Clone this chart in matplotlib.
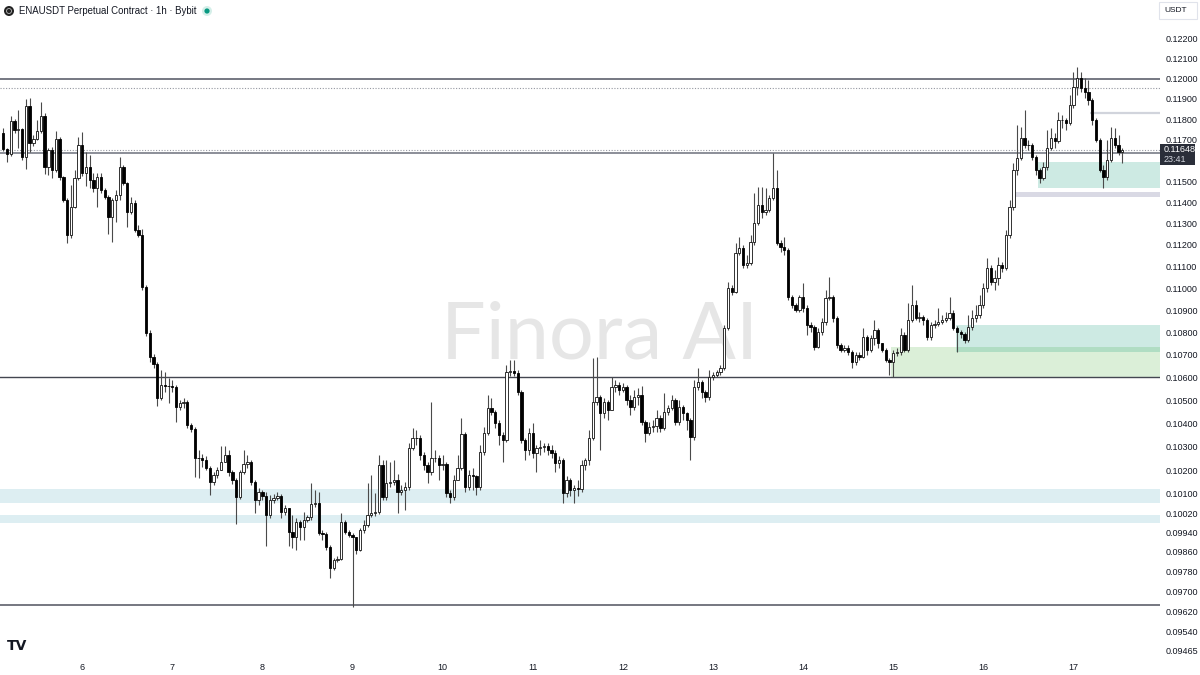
import matplotlib
matplotlib.use("Agg")
import matplotlib.pyplot as plt
from matplotlib.patches import Rectangle, Circle
from matplotlib.ticker import FixedLocator, NullLocator, FuncFormatter

# hourly candles, ENAUSDT 1h, day 5 03:00 -> day 17 12:00
first_open = 0.11733
close = [
    0.11655, 0.11631, 0.11792, 0.11748, 0.11753, 0.11617, 0.11866, 0.11684, 0.11704, 0.11743,
    0.11817, 0.11568, 0.11650, 0.11554, 0.11704, 0.11520, 0.11411, 0.11247, 0.11378, 0.11516,
    0.11675, 0.11540, 0.11568, 0.11506, 0.11468, 0.11520, 0.11459, 0.11425, 0.11331, 0.11411,
    0.11435, 0.11568, 0.11492, 0.11355, 0.11397, 0.11270, 0.11247, 0.11006, 0.10799, 0.10692,
    0.10660, 0.10511, 0.10568, 0.10565, 0.10564, 0.10559, 0.10472, 0.10489, 0.10493, 0.10394,
    0.10376, 0.10252, 0.10250, 0.10243, 0.10209, 0.10151, 0.10180, 0.10201, 0.10235, 0.10265,
    0.10193, 0.10159, 0.10088, 0.10193, 0.10226, 0.10235, 0.10151, 0.10075, 0.10109, 0.10092,
    0.10013, 0.10075, 0.10083, 0.10092, 0.10025, 0.10042, 0.09942, 0.09921, 0.09984, 0.09963,
    0.09992, 0.10004, 0.10058, 0.10063, 0.09938, 0.09934, 0.09880, 0.09795, 0.09827, 0.09831,
    0.09984, 0.09942, 0.09930, 0.09921, 0.09868, 0.09950, 0.09971, 0.10013, 0.10021, 0.10025,
    0.10222, 0.10088, 0.10146, 0.10151, 0.10159, 0.10109, 0.10117, 0.10130, 0.10295, 0.10338,
    0.10336, 0.10265, 0.10222, 0.10193, 0.10252, 0.10250, 0.10222, 0.10226, 0.10104, 0.10088,
    0.10159, 0.10209, 0.10355, 0.10130, 0.10180, 0.10176, 0.10130, 0.10278, 0.10359, 0.10467,
    0.10450, 0.10402, 0.10351, 0.10329, 0.10625, 0.10627, 0.10621, 0.10537, 0.10329, 0.10286,
    0.10359, 0.10273, 0.10295, 0.10299, 0.10303, 0.10286, 0.10273, 0.10230, 0.10243, 0.10104,
    0.10159, 0.10117, 0.10125, 0.10119, 0.10222, 0.10243, 0.10338, 0.10493, 0.10515, 0.10446,
    0.10493, 0.10459, 0.10559, 0.10568, 0.10546, 0.10559, 0.10502, 0.10472, 0.10515, 0.10524,
    0.10406, 0.10359, 0.10385, 0.10389, 0.10424, 0.10381, 0.10450, 0.10467, 0.10502, 0.10406,
    0.10472, 0.10446, 0.10415, 0.10342, 0.10559, 0.10581, 0.10537, 0.10515, 0.10603, 0.10612,
    0.10625, 0.10643, 0.10821, 0.11002, 0.10983, 0.11163, 0.11186, 0.11107, 0.11116, 0.11214,
    0.11303, 0.11387, 0.11355, 0.11364, 0.11420, 0.11468, 0.11209, 0.11190, 0.11177, 0.10961,
    0.10925, 0.10902, 0.10961, 0.10911, 0.10835, 0.10826, 0.10736, 0.10803, 0.10848, 0.10956,
    0.10961, 0.10866, 0.10745, 0.10723, 0.10731, 0.10714, 0.10669, 0.10700, 0.10691, 0.10781,
    0.10723, 0.10776, 0.10812, 0.10754, 0.10723, 0.10678, 0.10669, 0.10709, 0.10714, 0.10790,
    0.10723, 0.10857, 0.10925, 0.10866, 0.10871, 0.10857, 0.10781, 0.10835, 0.10839, 0.10848,
    0.10857, 0.10866, 0.10889, 0.10821, 0.10803, 0.10794, 0.10767, 0.10826, 0.10866, 0.10880,
    0.10925, 0.11002, 0.11093, 0.11029, 0.11047, 0.11107, 0.11093, 0.11247, 0.11378, 0.11554,
    0.11612, 0.11709, 0.11675, 0.11673, 0.11617, 0.11554, 0.11516, 0.11568, 0.11660, 0.11709,
    0.11694, 0.11797, 0.11795, 0.11782, 0.11870, 0.11959, 0.12004, 0.11954, 0.11935, 0.11895,
    0.11797, 0.11699, 0.11554, 0.11520, 0.11602, 0.11709, 0.11675, 0.11641, 0.11648,
]
high = [
    0.11758, 0.11660, 0.11817, 0.11802, 0.11846, 0.11758, 0.11900, 0.11905, 0.11724, 0.11797,
    0.11885, 0.11831, 0.11660, 0.11665, 0.11743, 0.11714, 0.11525, 0.11420, 0.11482, 0.11554,
    0.11714, 0.11738, 0.11641, 0.11626, 0.11540, 0.11540, 0.11540, 0.11468, 0.11435, 0.11420,
    0.11459, 0.11617, 0.11578, 0.11497, 0.11425, 0.11411, 0.11294, 0.11275, 0.11015, 0.10812,
    0.10705, 0.10669, 0.10634, 0.10625, 0.10599, 0.10590, 0.10568, 0.10502, 0.10511, 0.10502,
    0.10402, 0.10385, 0.10286, 0.10269, 0.10260, 0.10218, 0.10193, 0.10214, 0.10303, 0.10303,
    0.10286, 0.10201, 0.10167, 0.10201, 0.10286, 0.10265, 0.10243, 0.10159, 0.10125, 0.10117,
    0.10109, 0.10096, 0.10100, 0.10109, 0.10100, 0.10054, 0.10042, 0.10013, 0.10000, 0.09992,
    0.10025, 0.10013, 0.10146, 0.10117, 0.10109, 0.09950, 0.09942, 0.09888, 0.09835, 0.09843,
    0.10021, 0.09992, 0.09950, 0.09938, 0.09921, 0.09959, 0.09992, 0.10146, 0.10180, 0.10104,
    0.10265, 0.10243, 0.10243, 0.10235, 0.10243, 0.10184, 0.10138, 0.10151, 0.10316, 0.10381,
    0.10372, 0.10351, 0.10278, 0.10235, 0.10493, 0.10286, 0.10265, 0.10265, 0.10235, 0.10117,
    0.10180, 0.10265, 0.10424, 0.10363, 0.10201, 0.10209, 0.10180, 0.10308, 0.10385, 0.10524,
    0.10511, 0.10459, 0.10415, 0.10363, 0.10656, 0.10678, 0.10678, 0.10634, 0.10546, 0.10338,
    0.10381, 0.10402, 0.10308, 0.10329, 0.10316, 0.10316, 0.10308, 0.10286, 0.10260, 0.10252,
    0.10176, 0.10167, 0.10138, 0.10159, 0.10243, 0.10252, 0.10372, 0.10687, 0.10692, 0.10524,
    0.10511, 0.10502, 0.10603, 0.10590, 0.10581, 0.10577, 0.10568, 0.10524, 0.10546, 0.10555,
    0.10564, 0.10415, 0.10406, 0.10415, 0.10459, 0.10437, 0.10533, 0.10480, 0.10524, 0.10511,
    0.10502, 0.10480, 0.10450, 0.10424, 0.10590, 0.10643, 0.10590, 0.10546, 0.10634, 0.10625,
    0.10634, 0.10656, 0.10835, 0.11029, 0.11015, 0.11209, 0.11237, 0.11200, 0.11153, 0.11247,
    0.11444, 0.11473, 0.11473, 0.11468, 0.11435, 0.11636, 0.11554, 0.11223, 0.11237, 0.11186,
    0.10970, 0.10934, 0.10970, 0.11024, 0.10925, 0.10848, 0.10835, 0.10821, 0.10866, 0.10993,
    0.11052, 0.10970, 0.10875, 0.10754, 0.10745, 0.10745, 0.10723, 0.10714, 0.10714, 0.10821,
    0.10790, 0.10790, 0.10857, 0.10821, 0.10754, 0.10731, 0.10687, 0.10723, 0.10731, 0.10821,
    0.10803, 0.10934, 0.11015, 0.10947, 0.10893, 0.10880, 0.10866, 0.10848, 0.10857, 0.10911,
    0.10880, 0.10893, 0.10961, 0.10902, 0.10830, 0.10812, 0.10803, 0.10880, 0.10902, 0.10925,
    0.10970, 0.11024, 0.11139, 0.11107, 0.11084, 0.11144, 0.11121, 0.11270, 0.11411, 0.11588,
    0.11772, 0.11763, 0.11846, 0.11699, 0.11684, 0.11626, 0.11564, 0.11592, 0.11748, 0.11758,
    0.11733, 0.11836, 0.11821, 0.11807, 0.11920, 0.12034, 0.12059, 0.12034, 0.12004, 0.11994,
    0.11905, 0.11807, 0.11709, 0.11578, 0.11699, 0.11763, 0.11758, 0.11724, 0.11660,
]
low = [
    0.11646, 0.11592, 0.11621, 0.11733, 0.11660, 0.11602, 0.11559, 0.11641, 0.11670, 0.11699,
    0.11733, 0.11535, 0.11530, 0.11516, 0.11544, 0.11506, 0.11402, 0.11209, 0.11232, 0.11373,
    0.11506, 0.11525, 0.11478, 0.11468, 0.11449, 0.11378, 0.11444, 0.11416, 0.11251, 0.11214,
    0.11308, 0.11411, 0.11482, 0.11284, 0.11345, 0.11261, 0.11237, 0.10993, 0.10785, 0.10669,
    0.10643, 0.10476, 0.10502, 0.10537, 0.10489, 0.10537, 0.10406, 0.10459, 0.10467, 0.10381,
    0.10363, 0.10172, 0.10167, 0.10214, 0.10201, 0.10096, 0.10138, 0.10167, 0.10201, 0.10235,
    0.10176, 0.10142, 0.09975, 0.10079, 0.10184, 0.10209, 0.10138, 0.10021, 0.10054, 0.10075,
    0.09884, 0.10000, 0.10063, 0.10075, 0.10000, 0.10013, 0.09884, 0.09876, 0.09868, 0.09909,
    0.09909, 0.09984, 0.09992, 0.10046, 0.09930, 0.09909, 0.09868, 0.09754, 0.09787, 0.09819,
    0.09827, 0.09934, 0.09921, 0.09637, 0.09852, 0.09864, 0.09938, 0.09963, 0.10004, 0.10008,
    0.10017, 0.10075, 0.10075, 0.10130, 0.10138, 0.10021, 0.10096, 0.10033, 0.10117, 0.10286,
    0.10308, 0.10243, 0.10201, 0.10146, 0.10180, 0.10235, 0.10159, 0.10201, 0.10088, 0.10063,
    0.10075, 0.10180, 0.10201, 0.10109, 0.10117, 0.10117, 0.10096, 0.10117, 0.10265, 0.10351,
    0.10437, 0.10381, 0.10308, 0.10235, 0.10321, 0.10608, 0.10608, 0.10524, 0.10316, 0.10243,
    0.10265, 0.10252, 0.10193, 0.10265, 0.10278, 0.10265, 0.10252, 0.10193, 0.10209, 0.10063,
    0.10088, 0.10092, 0.10063, 0.10092, 0.10109, 0.10201, 0.10222, 0.10329, 0.10480, 0.10286,
    0.10424, 0.10415, 0.10467, 0.10537, 0.10524, 0.10537, 0.10480, 0.10437, 0.10459, 0.10480,
    0.10394, 0.10321, 0.10351, 0.10363, 0.10363, 0.10363, 0.10372, 0.10437, 0.10459, 0.10394,
    0.10394, 0.10415, 0.10372, 0.10243, 0.10329, 0.10546, 0.10511, 0.10493, 0.10502, 0.10590,
    0.10603, 0.10612, 0.10634, 0.10812, 0.10970, 0.10979, 0.11153, 0.11093, 0.11093, 0.11107,
    0.11200, 0.11294, 0.11326, 0.11340, 0.11355, 0.11411, 0.11200, 0.11167, 0.11153, 0.10947,
    0.10911, 0.10893, 0.10893, 0.10893, 0.10790, 0.10803, 0.10723, 0.10731, 0.10790, 0.10835,
    0.10947, 0.10848, 0.10731, 0.10714, 0.10714, 0.10700, 0.10643, 0.10656, 0.10678, 0.10687,
    0.10700, 0.10714, 0.10745, 0.10731, 0.10714, 0.10669, 0.10612, 0.10603, 0.10696, 0.10700,
    0.10714, 0.10714, 0.10848, 0.10857, 0.10848, 0.10835, 0.10767, 0.10767, 0.10821, 0.10830,
    0.10839, 0.10848, 0.10857, 0.10812, 0.10714, 0.10776, 0.10754, 0.10758, 0.10812, 0.10848,
    0.10866, 0.10911, 0.10984, 0.11015, 0.10993, 0.11015, 0.11075, 0.11084, 0.11232, 0.11364,
    0.11530, 0.11602, 0.11660, 0.11650, 0.11602, 0.11530, 0.11492, 0.11506, 0.11554, 0.11650,
    0.11660, 0.11684, 0.11758, 0.11748, 0.11772, 0.11856, 0.11920, 0.11935, 0.11905, 0.11870,
    0.11772, 0.11689, 0.11544, 0.11468, 0.11506, 0.11592, 0.11660, 0.11626, 0.11588,
]

day_labels = ["6", "7", "8", "9", "10", "11", "12", "13", "14", "15", "16", "17"]
first_day_index = 21  # candle index of day 6 00:00

price_ticks = [0.12200, 0.12100, 0.12000, 0.11900, 0.11800, 0.11700, 0.11500, 0.11400,
               0.11300, 0.11200, 0.11100, 0.11000, 0.10900, 0.10800, 0.10700, 0.10600,
               0.10500, 0.10400, 0.10300, 0.10200, 0.10100, 0.10020, 0.09940, 0.09860,
               0.09780, 0.09700, 0.09620, 0.09540, 0.09465]

last_price = 0.11648
countdown = "23:41"

# drawn levels
level_top = 0.12000
level_dotted = 0.11953
level_mid = 0.11638
level_short = 0.11831
level_106 = 0.10603
level_bottom = 0.09645
# zones: (start candle, low price, high price)
zone_teal_high = (275.6, 0.11468, 0.11592)
zone_gray = (268.9, 0.11425, 0.11449)
zone_teal_low = (253.7, 0.10714, 0.10835)
zone_green = (236.4, 0.10603, 0.10736)
band_blue_1 = (0.10063, 0.10121)
band_blue_2 = (0.09980, 0.10013)

n = len(close)
opens = [first_open] + close[:-1]
xs = list(range(n))

W, H = 1200, 675
fig = plt.figure(figsize=(12, 6.75), dpi=100)
ax = fig.add_axes([0, 15 / H, 1160 / W, 660 / H])
ax.set_yscale("log")
x_left, x_right = -0.88, 308.05
ax.set_xlim(x_left, x_right)
ax.set_ylim(0.09427, 0.12399)

# zones and levels
ax.axhspan(band_blue_1[0], band_blue_1[1], color="#ddeef2", lw=0, zorder=1)
ax.axhspan(band_blue_2[0], band_blue_2[1], color="#ddeef2", lw=0, zorder=1)
for (start, lo, hi), col in [(zone_green, (0.31, 0.69, 0.25, 0.2)),
                             (zone_teal_low, (0.02, 0.59, 0.45, 0.2)),
                             (zone_teal_high, (0.02, 0.59, 0.45, 0.2)),
                             (zone_gray, (0.55, 0.55, 0.68, 0.33))]:
    ax.add_patch(Rectangle((start, lo), x_right - start, hi - lo, facecolor=col,
                           lw=0, zorder=1))

ax.axhline(level_top, color="#6a6d78", lw=1.3, zorder=2)
ax.axhline(level_dotted, color="#9598a1", lw=0.8, ls=(0, (1, 1.5)), zorder=2)
ax.axhline(level_mid, color="#787b86", lw=1.2, zorder=2)
ax.axhline(last_price, color="#9598a1", lw=0.8, ls=(0, (1, 1.5)), zorder=2)
ax.axhline(level_106, color="#434651", lw=1.0, zorder=2)
ax.axhline(level_bottom, color="#5d606b", lw=1.2, zorder=2)
ax.hlines(level_short, 289.4, x_right, color="#d1d4dc", lw=1.6, zorder=2)

# watermark
ax.text(0.517, 0.49, "Finora AI", transform=ax.transAxes, ha="center", va="center",
        fontsize=57, color="#e6e6e6", family="Lato", zorder=0)

# candles
ax.vlines(xs, low, high, color="#4a4a4a", lw=0.8, zorder=3)
up_x = [i for i in xs if close[i] >= opens[i]]
dn_x = [i for i in xs if close[i] < opens[i]]
ax.bar(up_x, [close[i] - opens[i] for i in up_x], bottom=[opens[i] for i in up_x],
       width=0.62, color="white", edgecolor="#111111", lw=0.6, zorder=4)
ax.bar(dn_x, [close[i] - opens[i] for i in dn_x], bottom=[opens[i] for i in dn_x],
       width=0.62, color="#000000", edgecolor="#000000", lw=0.6, zorder=4)

# axes styling
for s in ax.spines.values():
    s.set_visible(False)
ax.set_xticks([first_day_index + 24 * k for k in range(len(day_labels))])
ax.set_xticklabels(day_labels)
ax.tick_params(axis="x", length=0, pad=2, labelsize=6.5, labelcolor="#131722")
ax.yaxis.tick_right()
ax.yaxis.set_major_locator(FixedLocator(price_ticks))
ax.yaxis.set_minor_locator(NullLocator())
ax.yaxis.set_major_formatter(FuncFormatter(lambda v, p: f"{v:.5f}"))
ax.tick_params(axis="y", length=0, pad=4, labelsize=6.5, labelcolor="#131722")
for lab in ax.get_xticklabels() + ax.get_yticklabels():
    lab.set_family("Liberation Sans")

# overlay in pixel units for the screen furniture
ov = fig.add_axes([0, 0, 1, 1], zorder=10)
ov.set_xlim(0, W)
ov.set_ylim(H, 0)
ov.axis("off")
ov.patch.set_alpha(0)

ov.add_patch(Circle((9, 11), 5, facecolor="#222222", edgecolor="none"))
ov.add_patch(Circle((9, 11), 2.5, facecolor="none", edgecolor="#bbbbbb", lw=0.6))
ov.text(19, 11, "ENAUSDT Perpetual Contract · 1h · Bybit", va="center", ha="left",
        fontsize=6.9, color="#131722", family="Liberation Sans")
ov.add_patch(Circle((207, 11), 5, facecolor="#d5efe9", edgecolor="none"))
ov.add_patch(Circle((207, 11), 2.6, facecolor="#089981", edgecolor="none"))

# USDT box
ov.add_patch(Rectangle((1159, 2), 38, 17, facecolor="white", edgecolor="#e0e3eb", lw=0.8))
ov.text(1164, 10.5, "USDT", va="center", ha="left", fontsize=6, color="#131722",
        family="Liberation Sans")

# last price label
ov.add_patch(Rectangle((1160, 144), 35, 21, facecolor="#2a2e39", edgecolor="none"))
ov.text(1164, 149.5, f"{last_price:.5f}", va="center", ha="left", fontsize=6.5,
        color="white", family="Liberation Sans")
ov.text(1164, 159.5, countdown, va="center", ha="left", fontsize=6.5, color="#d1d4dc",
        family="Liberation Sans")

# TradingView logo
ov.text(7, 646, "TV", va="center", ha="left", fontsize=10, fontweight="heavy",
        color="#131722", family="DejaVu Sans")

fig.savefig("out.png", dpi=100, facecolor="white")
